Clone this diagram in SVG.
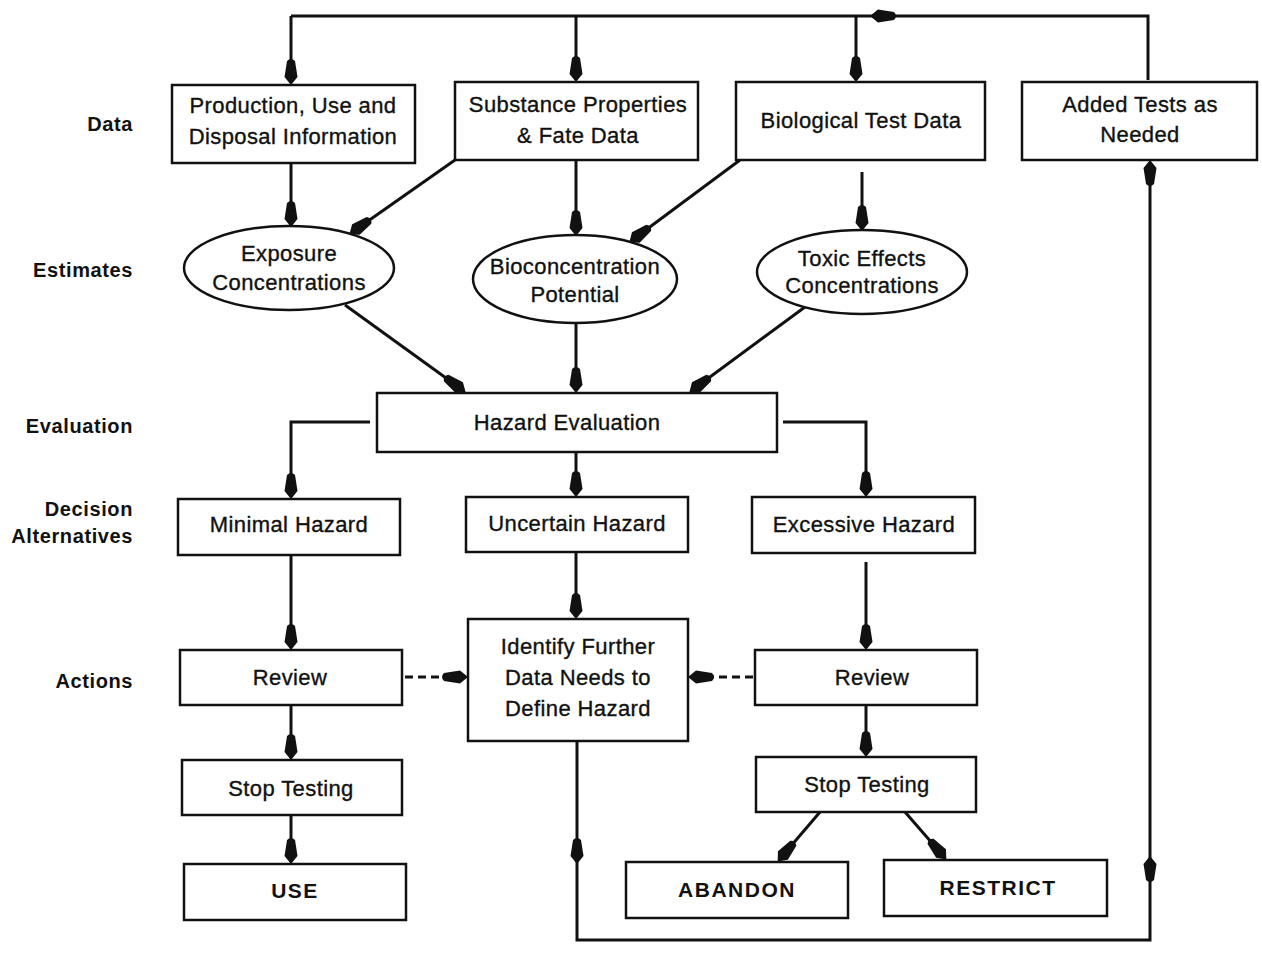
<svg xmlns="http://www.w3.org/2000/svg" width="1262" height="964" viewBox="0 0 1262 964">
  <style>
    .box { fill: #fff; stroke: #111; stroke-width: 2.5; }
    .t { font-family: "Liberation Sans", Arial, sans-serif; font-size: 22px; fill: #111; stroke: #111; stroke-width: 0.35; text-anchor: middle; letter-spacing: 0.4px; }
    .tb { font-family: "Liberation Sans", Arial, sans-serif; font-size: 21px; font-weight: bold; fill: #111; text-anchor: middle; letter-spacing: 1.5px; }
    .lab { font-family: "Liberation Sans", Arial, sans-serif; font-size: 20px; font-weight: bold; fill: #111; text-anchor: end; letter-spacing: 0.6px; }
    .c { fill: none; stroke: #111; stroke-width: 3; }
    .d { fill: none; stroke: #111; stroke-width: 3; stroke-dasharray: 8 5; }
  </style>
  <defs>
    <!-- spearhead used on every connector end -->
    <marker id="arr" markerUnits="userSpaceOnUse" markerWidth="30" markerHeight="16" viewBox="-27 -8 30 16" refX="0" refY="0" orient="auto">
      <path d="M2,0 L-6,-6.5 L-22,-4 Q-26,0 -22,4 L-6,6.5 Z" fill="#111"/>
    </marker>
  </defs>
  <rect width="1262" height="964" fill="#fff"/>

  <!-- row labels -->
  <g id="labels">
    <text class="lab" x="133" y="131">Data</text>
    <text class="lab" x="133" y="277">Estimates</text>
    <text class="lab" x="133" y="433">Evaluation</text>
    <text class="lab" x="133" y="516">Decision</text>
    <text class="lab" x="133" y="543">Alternatives</text>
    <text class="lab" x="133" y="688">Actions</text>
  </g>

  <!-- connectors -->
  <g id="connectors">
    <path class="c" d="M1148,80 V16 H872" marker-end="url(#arr)"/>
    <path class="c" d="M885,16 H291"/>
    <path class="c" d="M291,16 V83" marker-end="url(#arr)"/>
    <path class="c" d="M576,16 V80" marker-end="url(#arr)"/>
    <path class="c" d="M856,16 V80" marker-end="url(#arr)"/>

    <path class="c" d="M291,163 V225" marker-end="url(#arr)"/>
    <path class="c" d="M455,160 L351,233" marker-end="url(#arr)"/>
    <path class="c" d="M576,160 V234" marker-end="url(#arr)"/>
    <path class="c" d="M740,160 L631,241" marker-end="url(#arr)"/>
    <path class="c" d="M862,172 V229" marker-end="url(#arr)"/>

    <path class="c" d="M345,305 L464,391" marker-end="url(#arr)"/>
    <path class="c" d="M576,323 V391" marker-end="url(#arr)"/>
    <path class="c" d="M805,307 L691,391" marker-end="url(#arr)"/>

    <path class="c" d="M370,422 H291 V497" marker-end="url(#arr)"/>
    <path class="c" d="M783,422 H866 V495" marker-end="url(#arr)"/>
    <path class="c" d="M576,452 V495" marker-end="url(#arr)"/>

    <path class="c" d="M291,555 V648" marker-end="url(#arr)"/>
    <path class="c" d="M576,552 V617" marker-end="url(#arr)"/>
    <path class="c" d="M866,562 V648" marker-end="url(#arr)"/>

    <path class="d" d="M405,677 H466" marker-end="url(#arr)"/>
    <path class="d" d="M753,677 H690" marker-end="url(#arr)"/>

    <path class="c" d="M291,705 V758" marker-end="url(#arr)"/>
    <path class="c" d="M291,815 V862" marker-end="url(#arr)"/>
    <path class="c" d="M866,705 V755" marker-end="url(#arr)"/>
    <path class="c" d="M820,812 L779,860" marker-end="url(#arr)"/>
    <path class="c" d="M905,812 L945,858" marker-end="url(#arr)"/>

    <path class="c" d="M577,737 V862" marker-end="url(#arr)"/>
    <path class="c" d="M577,850 V940 H1150 V858" marker-end="url(#arr)"/>
    <path class="c" d="M1150,870 V162" marker-end="url(#arr)"/>
  </g>

  <!-- data row -->
  <g id="production">
    <rect class="box" x="172" y="85" width="243" height="78"/>
    <text class="t" x="293" y="113">Production, Use and</text>
    <text class="t" x="293" y="144">Disposal Information</text>
  </g>
  <g id="substance">
    <rect class="box" x="455" y="82" width="243" height="78"/>
    <text class="t" x="578" y="112">Substance Properties</text>
    <text class="t" x="578" y="143">&amp; Fate Data</text>
  </g>
  <g id="biological">
    <rect class="box" x="736" y="82" width="249" height="78"/>
    <text class="t" x="861" y="128">Biological Test Data</text>
  </g>
  <g id="added-tests">
    <rect class="box" x="1022" y="82" width="235" height="78"/>
    <text class="t" x="1140" y="112">Added Tests as</text>
    <text class="t" x="1140" y="142">Needed</text>
  </g>

  <!-- estimates row -->
  <g id="exposure">
    <ellipse class="box" cx="289" cy="268" rx="105" ry="42"/>
    <text class="t" x="289" y="261">Exposure</text>
    <text class="t" x="289" y="290">Concentrations</text>
  </g>
  <g id="bioconcentration">
    <ellipse class="box" cx="575" cy="279" rx="102" ry="44"/>
    <text class="t" x="575" y="274">Bioconcentration</text>
    <text class="t" x="575" y="302">Potential</text>
  </g>
  <g id="toxic">
    <ellipse class="box" cx="862" cy="272" rx="105" ry="42"/>
    <text class="t" x="862" y="266">Toxic Effects</text>
    <text class="t" x="862" y="293">Concentrations</text>
  </g>

  <!-- evaluation -->
  <g id="hazard-evaluation">
    <rect class="box" x="377" y="393" width="400" height="59"/>
    <text class="t" x="567" y="430">Hazard Evaluation</text>
  </g>

  <!-- decision alternatives -->
  <g id="minimal">
    <rect class="box" x="178" y="499" width="222" height="56"/>
    <text class="t" x="289" y="532">Minimal Hazard</text>
  </g>
  <g id="uncertain">
    <rect class="box" x="466" y="497" width="222" height="55"/>
    <text class="t" x="577" y="531">Uncertain Hazard</text>
  </g>
  <g id="excessive">
    <rect class="box" x="752" y="497" width="223" height="56"/>
    <text class="t" x="864" y="532">Excessive Hazard</text>
  </g>

  <!-- actions -->
  <g id="review-left">
    <rect class="box" x="180" y="650" width="222" height="55"/>
    <text class="t" x="290" y="685">Review</text>
  </g>
  <g id="identify">
    <rect class="box" x="468" y="619" width="220" height="122"/>
    <text class="t" x="578" y="654">Identify Further</text>
    <text class="t" x="578" y="685">Data Needs to</text>
    <text class="t" x="578" y="716">Define Hazard</text>
  </g>
  <g id="review-right">
    <rect class="box" x="755" y="650" width="222" height="55"/>
    <text class="t" x="872" y="685">Review</text>
  </g>
  <g id="stop-left">
    <rect class="box" x="182" y="760" width="220" height="55"/>
    <text class="t" x="291" y="796">Stop Testing</text>
  </g>
  <g id="use">
    <rect class="box" x="184" y="864" width="222" height="56"/>
    <text class="tb" x="295" y="898">USE</text>
  </g>
  <g id="stop-right">
    <rect class="box" x="756" y="757" width="220" height="55"/>
    <text class="t" x="867" y="792">Stop Testing</text>
  </g>
  <g id="abandon">
    <rect class="box" x="626" y="862" width="222" height="56"/>
    <text class="tb" x="737" y="897">ABANDON</text>
  </g>
  <g id="restrict">
    <rect class="box" x="884" y="860" width="223" height="56"/>
    <text class="tb" x="998" y="895">RESTRICT</text>
  </g>
</svg>
